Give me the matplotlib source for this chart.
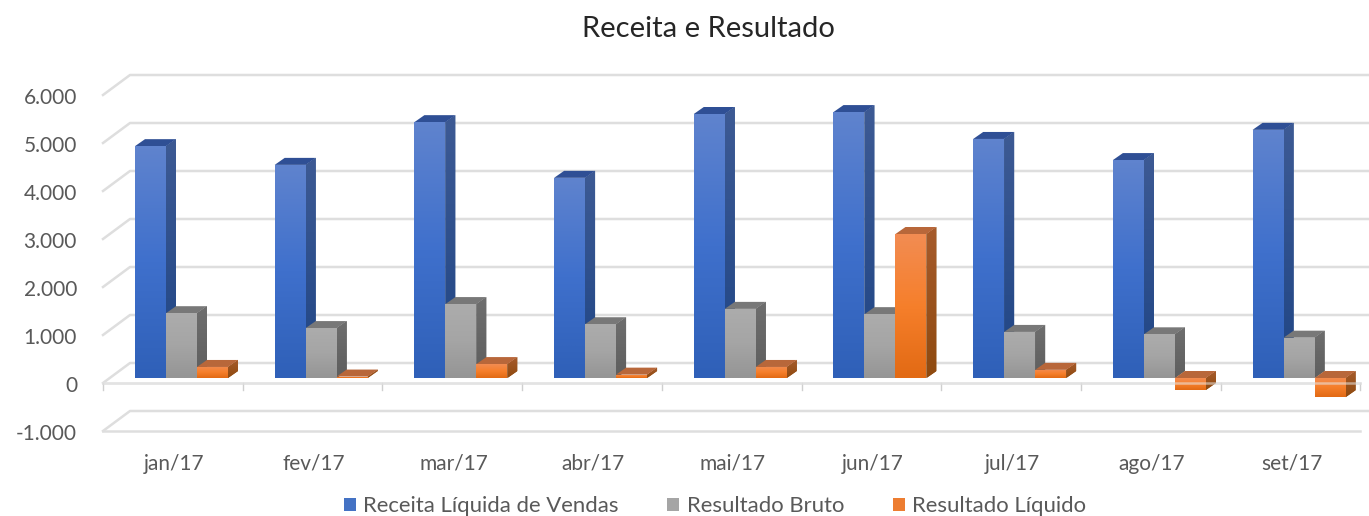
"""
Receita e Resultado: Excel style 3D clustered columns, drawn on a flat axes
"""

import numpy as np
import matplotlib
matplotlib.use("Agg")
import matplotlib.pyplot as plt
from matplotlib.colors import LinearSegmentedColormap
from matplotlib.patches import Patch, Polygon

plt.rcParams["font.family"] = ["Lato", "DejaVu Sans"]

# Data
months = ["jan/17", "fev/17", "mar/17", "abr/17", "mai/17", "jun/17", "jul/17", "ago/17", "set/17"]
receita = [4830, 4440, 5330, 4170, 5500, 5540, 4980, 4540, 5170]
bruto = [1350, 1040, 1540, 1120, 1440, 1330, 960, 910, 840]
liquido = [230, 30, 290, 70, 230, 3000, 170, -250, -400]
y_ticks = [-1000, 0, 1000, 2000, 3000, 4000, 5000, 6000]
y_labels = ["-1.000", "0", "1.000", "2.000", "3.000", "4.000", "5.000", "6.000"]
series_names = ["Receita Líquida de Vendas", "Resultado Bruto", "Resultado Líquido"]

# Pixel scale of the front plane
W, H = 1369, 516
PX_GROUP = 139.7
PX_VALUE = 0.048
X0, Y0 = 103, 383

# Shift of the back wall relative to the front plane, in data units
WALL_DX = 27 / PX_GROUP
WALL_DY = 20 / PX_VALUE
# Bars stand inside the floor, and have some depth of their own
BAR_OFF = 5 / PX_VALUE
BAR_DX = 10 / PX_GROUP
BAR_DY = 7 / PX_VALUE
BAR_W = 31 / PX_GROUP
GROUP_PAD = 32 / PX_GROUP

GRID = "#DEDEDE"
TEXT = "#595959"

# front stops, side stops, top colour, legend colour
styles = [
    (["#5F83CE", "#3F70CC", "#2F60B8"], ["#3D5A94", "#1F4585"], "#2F4F95", "#4472C4"),
    (["#ACACAC", "#A5A5A5", "#959595"], ["#6E6E6E", "#5E5E5E"], "#787878", "#A5A5A5"),
    (["#F28C52", "#F67F2B", "#E26A14"], ["#A65B2C", "#8F4A0F"], "#B8673A", "#ED7D31"),
]

fig = plt.figure(figsize=(W / 100, H / 100), dpi=100)
ax = fig.add_axes([0, 0, 1, 1])
ax.axis("off")
xlim = (-X0 / PX_GROUP, (W - X0) / PX_GROUP)
ylim = ((Y0 - H) / PX_VALUE, Y0 / PX_VALUE)


def gradient_fill(patch, stops, extent, z):
    cmap = LinearSegmentedColormap.from_list("g", stops)
    img = ax.imshow(np.linspace(0, 1, 64).reshape(-1, 1), cmap=cmap, extent=extent,
                    aspect="auto", origin="upper", zorder=z, interpolation="bilinear")
    img.set_clip_path(patch)


# Gridlines: diagonal on the side wall, then along the back wall
n = len(months)
for v in y_ticks:
    ax.plot([0, WALL_DX, xlim[1]], [v, v + WALL_DY, v + WALL_DY], color=GRID, lw=1.8, zorder=1)
# Floors at zero and at the bottom of the scale
for v in [y_ticks[0], 0]:
    ax.plot([0, n], [v, v], color=GRID, lw=1.8, zorder=1)
for i in range(n + 1):
    ax.plot([i, i], [0, -7 / PX_VALUE], color="#CFCFCF", lw=1, zorder=1)

# Bars
z = 2
for s, values in enumerate([receita, bruto, liquido]):
    front, side, top, _ = styles[s]
    xs = np.arange(n) + GROUP_PAD + s * BAR_W
    bars = ax.bar(xs, values, width=BAR_W, bottom=BAR_OFF, align="edge",
                  color=front[1], linewidth=0, zorder=z + 2)
    for x, val, bar in zip(xs, values, bars):
        hi = BAR_OFF + max(val, 0)
        lo = BAR_OFF + min(val, 0)
        xr = x + BAR_W
        side_poly = Polygon([(xr, hi), (xr + BAR_DX, hi + BAR_DY), (xr + BAR_DX, lo + BAR_DY), (xr, lo)],
                            closed=True, facecolor=side[1], edgecolor="none", zorder=z)
        ax.add_patch(side_poly)
        gradient_fill(side_poly, side, (xr, xr + BAR_DX, lo, hi + BAR_DY), z)
        ax.add_patch(Polygon([(x, hi), (x + BAR_DX, hi + BAR_DY), (xr + BAR_DX, hi + BAR_DY), (xr, hi)],
                             closed=True, facecolor=top, edgecolor="none", zorder=z + 1))
        gradient_fill(bar, front, (x, xr, lo, hi), z + 2)
    z += 3

# The zero floor line shows faintly through the negative bars
ax.plot([0, n], [0, 0], color="#E8E8E8", lw=1.8, alpha=0.55, zorder=z)

# Axis text
for v, lab in zip(y_ticks, y_labels):
    ax.text(-26 / PX_GROUP, v - 2.5 / PX_VALUE, lab, ha="right", va="center", fontsize=15, color=TEXT)
for i, m in enumerate(months):
    ax.text(i + 0.51, -81 / PX_VALUE, m, ha="center", va="center", fontsize=15, color=TEXT)
ax.text(0.5175, 1 - 29 / H, "Receita e Resultado", transform=ax.transAxes, ha="center", va="center",
        fontsize=21, color="#262626")

handles = [Patch(facecolor=st[3], edgecolor="none") for st in styles]
ax.legend(handles, series_names, ncol=3, loc="center", bbox_to_anchor=(715 / W, 1 - 506 / H),
          frameon=False, fontsize=15.9, labelcolor=TEXT, handlelength=0.55, handleheight=0.55,
          handletextpad=0.33, columnspacing=2.2, borderpad=0)

ax.set_xlim(xlim)
ax.set_ylim(ylim)
fig.savefig("out.png", dpi=100)
